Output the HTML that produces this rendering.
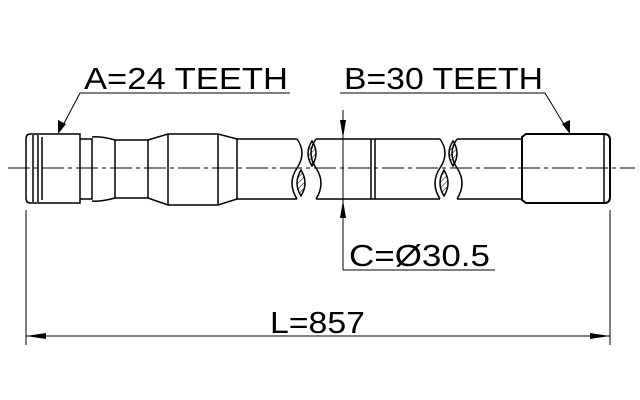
<!DOCTYPE html>
<html><head><style>body{margin:0;background:#fff}svg{display:block}</style></head><body>
<svg width="640" height="400" viewBox="0 0 640 400" xmlns="http://www.w3.org/2000/svg" font-family="Liberation Sans, sans-serif">
<defs>
<pattern id="h" width="4" height="4" patternUnits="userSpaceOnUse" patternTransform="rotate(45)"><line x1="0" y1="0" x2="0" y2="4" stroke="#000" stroke-width="1"/></pattern>
</defs>
<g fill="none" stroke="#000" stroke-width="1.5">
<line x1="8" y1="168" x2="635" y2="168" stroke-width="1" stroke-dasharray="22,4,4,4"/>
<path d="M30,134 H80 V203 H30 Q26,203 26,198 V139 Q26,134 30,134Z"/>
<line x1="33" y1="135" x2="33" y2="202"/>
<line x1="38" y1="135" x2="38" y2="202"/>
<line x1="42" y1="137" x2="42" y2="200"/>
<path d="M80,139 H92 V199 H80"/>
<path d="M92,137 Q100,136 115,140 L148,140 L168,134 H218 L237,139 H297"/>
<path d="M92,201 Q100,202 115,198 L148,198 L168,205 H218 L237,199 H297"/>
<line x1="115" y1="140" x2="115" y2="198"/>
<line x1="148" y1="140" x2="148" y2="198"/>
<line x1="168" y1="134" x2="168" y2="205"/>
<line x1="218" y1="134" x2="218" y2="205"/>
<line x1="237" y1="139" x2="237" y2="199"/>
<path d="M297,139 Q307,153 297,168 Q287,183 297,199"/>
<path d="M316,139 Q306,153 316,168 Q326,183 316,199"/>
<path d="M312,141 Q320,153 312,166 Q304,153 312,141Z" fill="url(#h)"/>
<path d="M301,170 Q309,183 301,196 Q293,183 301,170Z" fill="url(#h)"/>
<line x1="316" y1="139" x2="440" y2="139"/>
<line x1="316" y1="199" x2="440" y2="199"/>
<line x1="371" y1="139" x2="371" y2="199"/>
<line x1="375" y1="139" x2="375" y2="199"/>
<path d="M440,139 Q450,153 440,168 Q430,183 440,199"/>
<path d="M457,139 Q447,153 457,168 Q467,183 457,199"/>
<path d="M453,141 Q461,153 453,166 Q445,153 453,141Z" fill="url(#h)"/>
<path d="M444,170 Q452,183 444,196 Q436,183 444,170Z" fill="url(#h)"/>
<line x1="457" y1="139" x2="522" y2="139"/>
<line x1="457" y1="199" x2="522" y2="199"/>
<path d="M522,137 L526,134 H604 Q610,134 610,140 V197 Q610,203 604,203 H526 L522,200Z" stroke-width="2"/>
<line x1="604" y1="134" x2="604" y2="203"/>
<line x1="80" y1="93" x2="290" y2="93" stroke-width="1"/>
<line x1="80" y1="93" x2="60" y2="131" stroke-width="1"/>
<line x1="340" y1="93" x2="545" y2="93" stroke-width="1"/>
<line x1="545" y1="93" x2="568" y2="131" stroke-width="1"/>
<line x1="343" y1="110" x2="343" y2="270" stroke-width="1"/>
<line x1="343" y1="270" x2="495" y2="270" stroke-width="1"/>
<line x1="26" y1="210" x2="26" y2="345" stroke-width="1"/>
<line x1="610" y1="210" x2="610" y2="345" stroke-width="1"/>
<line x1="26" y1="336" x2="610" y2="336" stroke-width="1"/>
</g>
<g fill="#000">
<polygon points="58,134 58,120 66,124"/>
<polygon points="570,134 562,124 570,120"/>
<polygon points="343,138 340,120 346,120"/>
<polygon points="343,200 340,218 346,218"/>
<polygon points="26,336 46,333 46,339"/>
<polygon points="610,336 590,333 590,339"/>
</g>
<g font-size="31" fill="#000">
<text x="84" y="89" textLength="204" lengthAdjust="spacingAndGlyphs">A=24 TEETH</text>
<text x="344" y="89" textLength="199" lengthAdjust="spacingAndGlyphs">B=30 TEETH</text>
<text x="349" y="266" textLength="141" lengthAdjust="spacingAndGlyphs">C=Ø30.5</text>
<text x="270" y="333" textLength="95" lengthAdjust="spacingAndGlyphs">L=857</text>
</g>
</svg>
</body></html>
